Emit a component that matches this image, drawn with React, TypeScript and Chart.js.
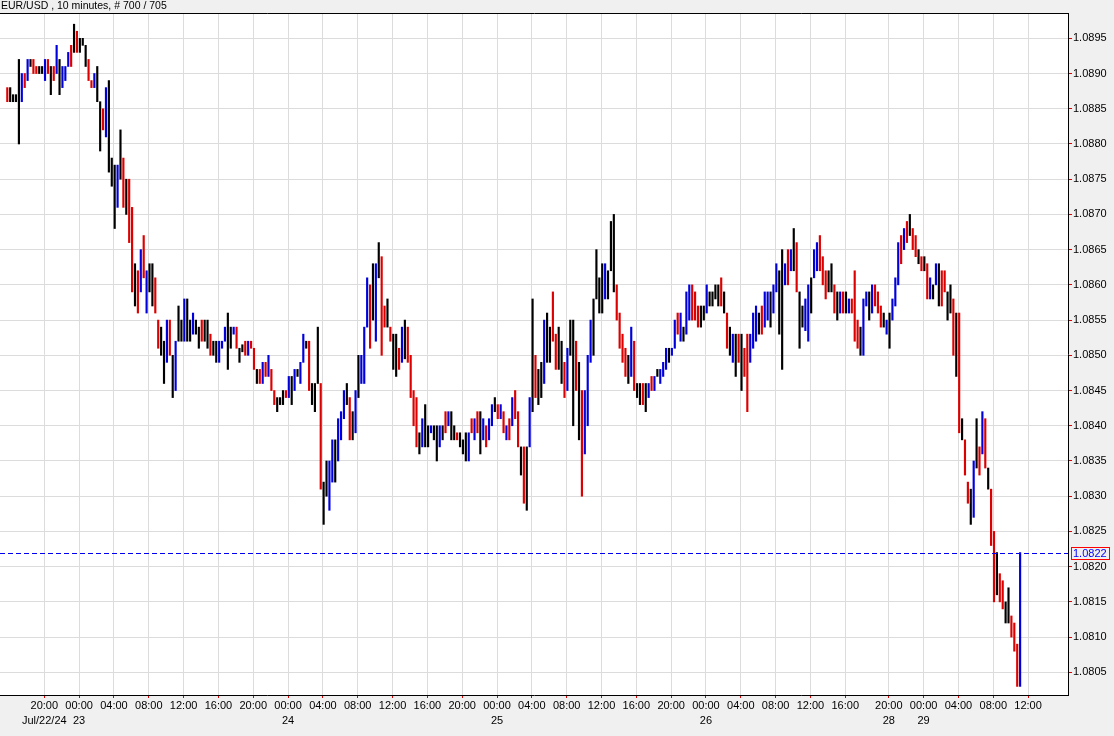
import { useEffect, useRef } from "react";
import { Chart, registerables } from "chart.js";

Chart.register(...registerables);

// ---------- data ----------
const TITLE = "EUR/USD , 10 minutes, # 700 / 705";
// prices are stored as pips above BASE: price = BASE + pips * PIP
const BASE = 1.08;
const PIP = 0.0001;
const LAST_PRICE = 1.0822;

// one entry per 20-minute bar (Jul 22 15:40 .. Jul 29 11:40)
const highPips = [
  88, 88, 87, 87, 92, 90, 90, 92, 92, 92,
  91, 91, 91, 92, 92, 91, 91, 94, 92, 91,
  91, 93, 94, 97, 96, 95, 95, 94, 92, 89,
  90, 91, 86, 85, 88, 89, 78, 77, 77, 82,
  78, 75, 75, 71, 63, 62, 65, 67, 62, 63,
  63, 61, 55, 54, 52, 55, 55, 50, 52, 57,
  55, 58, 58, 55, 56, 55, 54, 55, 55, 55,
  53, 52, 52, 52, 52, 54, 56, 54, 54, 54,
  51, 51.5, 52, 52, 52, 51, 48, 48, 49, 49,
  50, 48, 45, 44, 44, 45, 45, 47, 47, 48,
  48, 49, 53, 52, 52, 46, 46, 54, 46, 32,
  35, 35, 38, 38, 41, 42, 45, 46, 44, 42,
  45, 50, 50, 54, 61, 60, 63, 63, 66, 64,
  57, 58, 54, 53, 53, 51, 54, 55, 54, 50,
  45, 44, 39, 41, 43, 40, 40, 40, 40, 40,
  40, 42, 42, 42, 40, 39, 39, 38, 39, 39,
  41, 41, 42, 42, 41, 40, 41, 43, 44, 43,
  43, 42, 40, 41, 44, 45, 42, 37, 37, 37,
  44, 58, 50, 48, 49, 55, 56, 54, 59, 53,
  54, 52, 49, 51, 55, 55, 52, 49, 45, 45,
  50, 55, 58, 65, 61, 63, 63, 62, 69, 70,
  60, 56, 53, 51, 50, 54, 52, 46, 46, 46,
  46, 46, 47, 47, 48, 48, 49, 51, 51, 51,
  55, 56, 56, 54, 59, 60, 60, 59, 57, 57,
  57, 60, 59, 59, 60, 60, 61, 59, 56, 54,
  53, 53, 53, 53, 51, 53, 53, 56, 57, 56,
  57, 59, 59, 59, 60, 63, 62, 65, 63, 65,
  65, 68, 66, 59, 57, 58, 60, 61, 65, 66,
  67, 64, 62, 62, 63, 60, 59, 59, 59, 59,
  58, 58, 62, 55, 54, 58, 59, 59, 60, 60,
  59, 57, 56, 55, 56, 58, 61, 66, 67, 68,
  69, 70, 68, 67, 65, 64, 64, 63, 61, 60,
  63, 63, 62, 62, 59, 60, 58, 56, 56, 41,
  38, 32, 31, 35, 41, 37, 42, 41, 34, 31,
  25, 22, 19, 18, 15, 17, 13, 12, 9, 22,
];

const lowPips = [
  86, 86, 86, 86, 80, 86, 88, 89, 91, 90,
  90, 90, 90, 89, 90, 87, 89, 90, 87, 88,
  89, 91, 91, 93, 93, 93, 94, 91, 89, 88,
  88, 86, 79, 82, 81, 76, 74, 68, 71, 75,
  71, 70, 66, 59, 57, 56, 59, 61, 56, 59,
  57, 56, 51, 50, 46, 49, 50, 44, 45, 52,
  52, 52, 52, 52, 53, 53, 51, 52, 52, 51,
  50, 50, 49, 49, 51, 52, 48, 51, 53, 51,
  49, 50.5, 50, 50, 51, 48, 46, 46, 46, 47,
  47, 45, 43, 42, 43, 43, 44, 44, 43, 45,
  47, 46, 49, 51, 45, 43, 42, 46, 31, 26,
  30, 28, 32, 32, 35, 38, 41, 43, 38, 38,
  39, 44, 46, 46, 54, 51, 55, 52, 61, 50,
  54, 54, 52, 48, 47, 48, 49, 49.5, 49, 44,
  40, 37, 36, 37, 37, 37, 39, 38, 35, 37,
  38, 39, 40, 38, 38, 38, 37, 36, 35, 35,
  39, 38, 39, 36, 38, 37, 38, 40, 42, 41,
  41, 39, 38, 38, 40, 41, 37, 33, 29, 28,
  37, 42, 44, 43, 44, 46, 49, 49, 52, 48,
  48, 46, 44, 45, 50, 40, 45, 38, 30, 36,
  40, 49, 50, 58, 56, 56, 58, 58, 62, 59,
  55, 51, 49, 47, 46, 47, 45, 44, 43, 43,
  42, 44, 45, 45, 47, 46, 47, 48, 49, 50,
  51, 53, 52, 52, 53, 55, 55, 55, 54, 54,
  55, 56, 57, 57, 58, 57, 57, 56, 51, 50,
  49, 47, 49, 45, 47, 42, 49, 51, 52, 53,
  53, 54, 55, 54, 56, 59, 53, 48, 60, 60,
  62, 62, 59, 51, 54, 53.5, 52, 56, 61, 62,
  62, 60, 58, 59, 59, 56, 55, 56, 56, 56,
  56, 56, 52, 51, 50, 50, 57, 55, 56, 57,
  56, 54, 54, 53, 51, 55, 57, 60, 63, 65,
  66, 67, 65, 64, 63, 62, 62, 58, 58, 58,
  60, 57, 57, 59, 55, 56, 50, 47, 39, 38,
  33, 29, 26, 27, 34, 33, 36, 34, 31, 23,
  15, 16, 15, 14, 12, 12, 10, 8, 3, 3,
];

// bar colour: r = down (red), b = up (blue), k = black
const barDir = [
  "rkkkkbrbkr", "rkkbrkrbkb", "bbrkrkkkrr", "bkkrbkkkbk", "rkrrkrbrbk",
  "krrkkbrkbk", "kbkkbkkrkk", "rkkbbbkkbr", "kkrbrrkrbr", "brrkkkrbkb",
  "kbbkrkkkrk", "kbbkbbbkrk", "bkbbbrkbkr", "rkrkkrbkrr", "rrkbkkbkkb",
  "krbkkrkkkb", "rbrkbrbbkr", "brbrbrrkrk", "bkrkkbkkrr", "kkrbkkrkrb",
  "bbkkkkbkkk", "rrrrkbrkkr", "kbrbkbbbkb", "brbkbbrrrk", "kbkkkkrkrk",
  "bkrkrrbbbk", "rbbkbbkkbr", "bkrkkbbkbb", "rrrkkrkbrk", "brrrkbbkbr",
  "rrkbkbbbrb", "rkrrkrkrbk", "bkrrkkrkrk", "rrkbkrbrkr", "rkrrkkrrrb",
].join("");

// x ticks, in 10-minute bar numbers from the first bar
const xTickIndex = [26, 50, 74, 98, 122, 146, 170, 194, 218, 242, 266, 290, 314, 338, 362, 386, 410, 434, 458, 482, 506, 530, 554, 578, 608, 632, 656, 680, 704];
const xTickTime = ["20:00", "00:00", "04:00", "08:00", "12:00", "16:00", "20:00", "00:00", "04:00", "08:00", "12:00", "16:00", "20:00", "00:00", "04:00", "08:00", "12:00", "16:00", "20:00", "00:00", "04:00", "08:00", "12:00", "16:00", "20:00", "00:00", "04:00", "08:00", "12:00"];
const xTickDate = ["Jul/22/24", "23", "", "", "", "", "", "24", "", "", "", "", "", "25", "", "", "", "", "", "26", "", "", "", "", "28", "29", "", "", ""];

const yTickValues = [1.0805, 1.081, 1.0815, 1.082, 1.0825, 1.083, 1.0835, 1.084, 1.0845, 1.085, 1.0855, 1.086, 1.0865, 1.087, 1.0875, 1.088, 1.0885, 1.089, 1.0895];

const COLORS: Record<string, string> = { r: "#dd0000", b: "#0000dd", k: "#000000" };
const FONT = '"Liberation Sans", Arial, sans-serif';

const chromePlugin = {
  id: "chrome",
  beforeDraw(chart: any) {
    const { ctx, chartArea: a, width, height } = chart;
    ctx.save();
    ctx.fillStyle = "#f0f0f0";
    ctx.fillRect(0, 0, width, height);
    ctx.fillStyle = "#ffffff";
    ctx.fillRect(a.left, a.top, a.right - a.left, a.bottom - a.top);
    ctx.fillStyle = "#000000";
    ctx.font = `10.5px ${FONT}`;
    ctx.textBaseline = "middle";
    ctx.textAlign = "left";
    ctx.fillText(TITLE, 1, 6.5);
    ctx.restore();
  },
  afterDatasetsDraw(chart: any) {
    const { ctx, chartArea: a } = chart;
    const y = Math.round(chart.scales.y.getPixelForValue(LAST_PRICE)) + 0.5;
    ctx.save();
    // last price dashed line
    ctx.strokeStyle = "#0000ee";
    ctx.lineWidth = 1;
    ctx.setLineDash([5, 3]);
    ctx.beginPath();
    ctx.moveTo(a.left, y);
    ctx.lineTo(a.right, y);
    ctx.stroke();
    ctx.setLineDash([]);
    // frame
    ctx.strokeStyle = "#000000";
    ctx.beginPath();
    ctx.moveTo(0, a.top - 0.5);
    ctx.lineTo(a.right + 1, a.top - 0.5);
    ctx.moveTo(a.right + 0.5, a.top - 1);
    ctx.lineTo(a.right + 0.5, a.bottom + 1);
    ctx.moveTo(0, a.bottom + 0.5);
    ctx.lineTo(a.right + 1, a.bottom + 0.5);
    ctx.stroke();
    // price box
    ctx.fillStyle = "#f0f0f0";
    ctx.fillRect(a.right + 3, y - 6.5, 38, 13);
    ctx.strokeStyle = "#ff0000";
    ctx.strokeRect(a.right + 3.5, y - 6, 38, 12);
    ctx.fillStyle = "#0000ff";
    ctx.font = `11px ${FONT}`;
    ctx.textBaseline = "middle";
    ctx.textAlign = "left";
    ctx.fillText(LAST_PRICE.toFixed(4), a.right + 5, y + 0.5);
    ctx.restore();
  },
};

export default function App() {
  const ref = useRef<HTMLCanvasElement>(null);
  useEffect(() => {
    const bars = highPips.map((h, i) => ({
      x: 2 * i + 0.5,
      y: [BASE + lowPips[i] * PIP, BASE + h * PIP],
    }));
    const colors = highPips.map((_, i) => COLORS[barDir[i]] || "#000000");
    const chart = new Chart(ref.current as HTMLCanvasElement, {
      type: "bar",
      data: {
        datasets: [
          {
            data: bars as any,
            backgroundColor: colors,
            borderWidth: 0,
            barThickness: 1.5,
            grouped: false,
          } as any,
        ],
      },
      options: {
        responsive: false,
        animation: false,
        devicePixelRatio: 1,
        events: [],
        layout: { padding: { top: 14, left: 0, right: 0, bottom: 0 } },
        plugins: { legend: { display: false }, tooltip: { enabled: false }, title: { display: false } },
        scales: {
          x: {
            type: "linear",
            min: -4.53,
            max: 731.5,
            offset: false,
            border: { display: false },
            grid: { color: "#dcdcdc", lineWidth: 1, offset: false, drawTicks: true, tickLength: 3, tickColor: "#e00000" },
            afterBuildTicks: (s: any) => {
              s.ticks = xTickIndex.map((v) => ({ value: v }));
            },
            afterFit: (s: any) => {
              s.height = 41;
            },
            ticks: {
              autoSkip: false,
              maxRotation: 0,
              minRotation: 0,
              padding: 0,
              color: "#000000",
              font: { family: FONT, size: 11, lineHeight: 1.42 },
              callback: (_v: any, i: number) => (xTickDate[i] ? [xTickTime[i], xTickDate[i]] : xTickTime[i]),
            },
          },
          y: {
            type: "linear",
            position: "right",
            min: 1.080178,
            max: 1.089845,
            border: { display: false },
            grid: { color: "#dcdcdc", lineWidth: 1, drawTicks: true, tickLength: 4, tickColor: "#e00000" },
            afterBuildTicks: (s: any) => {
              s.ticks = yTickValues.map((v) => ({ value: v }));
            },
            afterFit: (s: any) => {
              s.width = 46;
            },
            ticks: {
              padding: 1,
              color: "#000000",
              font: { family: FONT, size: 11 },
              callback: (v: any) => Number(v).toFixed(4),
            },
          },
        },
      },
      plugins: [chromePlugin],
    });
    return () => chart.destroy();
  }, []);
  return (
    <div style={{ position: "absolute", left: 0, top: 0, width: 1114, height: 736 }}>
      <canvas ref={ref} width={1114} height={736} style={{ display: "block" }} />
    </div>
  );
}
